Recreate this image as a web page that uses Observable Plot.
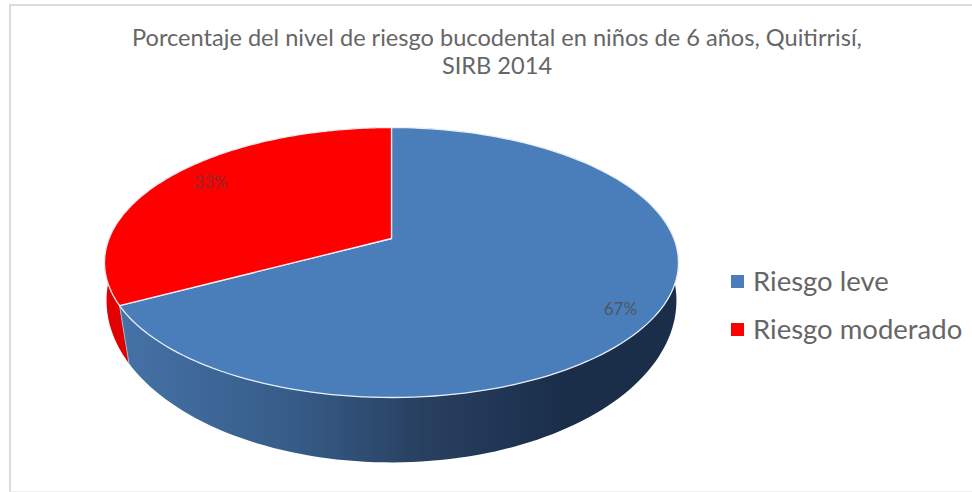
<!DOCTYPE html>
<html lang="es">
<head>
<meta charset="utf-8">
<script src="https://cdn.jsdelivr.net/npm/d3@7"></script>
<script src="https://cdn.jsdelivr.net/npm/@observablehq/plot@0.6"></script>
<style>
  html, body { margin: 0; padding: 0; background: #fff; }
  #page { position: relative; width: 972px; height: 492px; overflow: hidden; font-family: Lato, sans-serif; }
  #frame { position: absolute; left: 9px; top: 4px; right: 0; bottom: 0; border-left: 2px solid #dcdcdc; border-top: 2px solid #dcdcdc; border-bottom: 1px solid #eeeeee; pointer-events: none; }
  #title { position: relative; height: 88px; box-sizing: border-box; padding-top: 23px; text-align: center; width: 994px; color: #666; font-size: 23.6px; line-height: 28px; }
  #legend { position: absolute; left: 731px; top: 262px; color: #666; font-size: 27.5px; }
  .item { position: relative; height: 48px; line-height: 38px; padding-left: 22px; white-space: nowrap; }
  .sw { position: absolute; left: 0; top: 13px; width: 13px; height: 13px; }
  svg { display: block; }
</style>
</head>
<body>
<div id="page">
  <div id="title">Porcentaje del nivel de riesgo bucodental en niños de 6 años, Quitirrisí,<br>SIRB 2014</div>
  <div id="chart"></div>
  <div id="legend"></div>
  <div id="frame"></div>
</div>
<script>
const categories = ["Riesgo leve", "Riesgo moderado"];
const shares = [67.2, 32.8];
const labels = ["67%", "33%"];
const topColors = ["#4a7ebb", "#ff0000"];
const sideFills = ["url(#sideBlue)", "#e00000"];

// Tilted-disc geometry: upper rim and lower rim seen in perspective
const upper = { k: 0.178, sx: 1, sy: 1, drop: 0 };
const lower = { k: 0.1, sx: 1.004, sy: 1.227, drop: 0.35 };
const steps = 140;
const project = (t, r = 1, p = upper) => {
  const u = r * Math.sin(t), v = -r * Math.cos(t), w = 1 - p.k * v;
  return { x: p.sx * u / w, y: p.sy * v / w + p.drop };
};
const total = d3.sum(shares);
let acc = 0;
const slices = shares.map((d, i) => {
  const a0 = acc / total * 2 * Math.PI;
  acc += d;
  const a1 = acc / total * 2 * Math.PI;
  return { i, a0, a1, mid: (a0 + a1) / 2 };
});
const arc = (a0, a1, p) =>
  d3.range(steps + 1).map(j => project(a0 + (a1 - a0) * j / steps, 1, p));

const topShape = s => [{ x: 0, y: 0 }, ...arc(s.a0, s.a1, upper), { x: 0, y: 0 }];
const sideShape = s => {
  const up = arc(s.a0, s.a1, upper), low = arc(s.a0, s.a1, lower).reverse();
  return [...up, ...low, up[0]];
};
const seam = [project(slices[0].a1, 1, upper), project(slices[0].a1, 1, lower)];

const W = 972, H = 404, fx = 282.4, fy = 130.7, cx = 391, cy = 150;

const chart = Plot.plot({
  width: W, height: H,
  margin: 0,
  x: { domain: [-cx / fx, (W - cx) / fx], range: [0, W], axis: null },
  y: { domain: [-cy / fy, (H - cy) / fy], range: [0, H], axis: null },
  marks: [
    ...[slices[1], slices[0]].map(s =>
      Plot.line(sideShape(s), { x: "x", y: "y", fill: sideFills[s.i], stroke: "none" })),
    Plot.line(seam, { x: "x", y: "y", stroke: "#9db6d3", strokeWidth: 1 }),
    ...slices.map(s =>
      Plot.line(topShape(s), { x: "x", y: "y", fill: topColors[s.i], stroke: "#e8eef5", strokeWidth: 1.3 })),
    Plot.text([project(slices[0].mid, 0.87)], { x: "x", y: "y", text: () => labels[0], dy: 7, fill: "#4d5560", fontSize: 17, fontFamily: "Lato, sans-serif" }),
    Plot.text([project(slices[1].mid, 0.80)], { x: "x", y: "y", text: () => labels[1], dy: -6, fill: "#8c2a2a", fontSize: 17, fontFamily: "Lato, sans-serif" })
  ]
});

chart.insertAdjacentHTML("afterbegin",
  `<defs><linearGradient id="sideBlue" x1="0" x2="1" y1="0" y2="0">
     <stop offset="0" stop-color="#4572a7"/>
     <stop offset="0.3" stop-color="#375d89"/>
     <stop offset="0.55" stop-color="#283f5f"/>
     <stop offset="0.8" stop-color="#1a2e4a"/>
     <stop offset="1" stop-color="#1a2e4a"/>
   </linearGradient></defs>`);
document.getElementById("chart").appendChild(chart);

const legend = document.getElementById("legend");
categories.forEach((c, i) => {
  const it = document.createElement("div");
  it.className = "item";
  it.innerHTML = `<span class="sw" style="background:${topColors[i]}"></span>${c}`;
  legend.appendChild(it);
});
</script>
</body>
</html>
